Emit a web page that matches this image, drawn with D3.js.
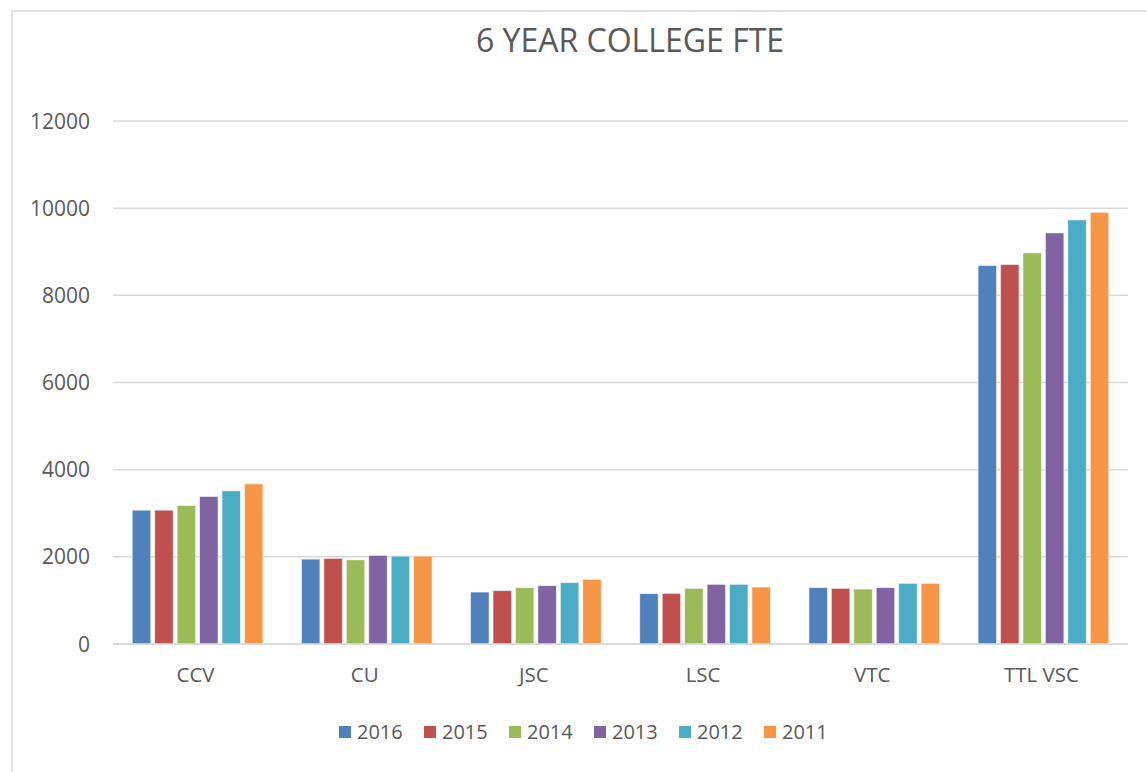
<!DOCTYPE html>
<html>
<head>
<meta charset="utf-8">
<script src="https://cdn.jsdelivr.net/npm/d3@7"></script>
<style>
  body { margin: 0; background: #fff; }
  svg { display: block; font-family: "Open Sans", sans-serif; }
</style>
</head>
<body>
<svg width="1147" height="772"></svg>
<script>
// Data
const categories = ["CCV", "CU", "JSC", "LSC", "VTC", "TTL VSC"];
const years = ["2016", "2015", "2014", "2013", "2012", "2011"];
const colors = ["#4F81BD", "#C0504D", "#9BBB59", "#8064A2", "#4BACC6", "#F79646"];
// one array per year, in category order
const fte2016 = [3070, 1947, 1191, 1155, 1292, 8683];
const fte2015 = [3070, 1963, 1223, 1160, 1276, 8706];
const fte2014 = [3177, 1931, 1292, 1276, 1260, 8973];
const fte2013 = [3383, 2032, 1338, 1368, 1292, 9432];
const fte2012 = [3513, 2016, 1407, 1368, 1391, 9730];
const fte2011 = [3673, 2016, 1482, 1306, 1391, 9904];
const yTicks = [0, 2000, 4000, 6000, 8000, 10000, 12000];

const series = [fte2016, fte2015, fte2014, fte2013, fte2012, fte2011];

const width = 1147, height = 772;
const margin = {left: 113, right: 1147 - 1128, top: 121, bottom: 772 - 644};

const svg = d3.select("svg");

// chart border
svg.append("rect")
    .attr("x", 12).attr("y", 11)
    .attr("width", width + 20).attr("height", height + 20)
    .attr("fill", "none")
    .attr("stroke", "#d9d9d9")
    .attr("stroke-width", 1.5);

const x0 = d3.scaleBand()
    .domain(categories)
    .range([margin.left, width - margin.right])
    .paddingInner(0.228)
    .paddingOuter(0.114);

const x1 = d3.scaleBand()
    .domain(years)
    .range([0, x0.bandwidth()])
    .paddingInner(0.18);

const y = d3.scaleLinear()
    .domain([0, 12000])
    .range([height - margin.bottom, margin.top]);

// gridlines
svg.append("g")
    .selectAll("line")
    .data(yTicks)
    .join("line")
    .attr("x1", margin.left)
    .attr("x2", width - margin.right)
    .attr("y1", d => y(d))
    .attr("y2", d => y(d))
    .attr("stroke", "#d9d9d9")
    .attr("stroke-width", 1.5);

// y tick labels
svg.append("g")
    .selectAll("text")
    .data(yTicks)
    .join("text")
    .attr("x", 90)
    .attr("y", d => y(d))
    .attr("dy", "0.36em")
    .attr("text-anchor", "end")
    .attr("fill", "#595959")
    .style("font-size", "21px")
    .text(d => d);

// bars
const groups = svg.append("g")
    .selectAll("g")
    .data(categories)
    .join("g")
    .attr("transform", d => `translate(${x0(d)},0)`);

groups.selectAll("rect")
    .data((c, ci) => years.map((yr, i) => ({year: yr, value: series[i][ci], color: colors[i]})))
    .join("rect")
    .attr("x", d => x1(d.year))
    .attr("width", x1.bandwidth())
    .attr("y", d => y(d.value))
    .attr("height", d => y(0) - y(d.value))
    .attr("fill", d => d.color)
    .attr("stroke", "#fff")
    .attr("stroke-opacity", 0.6)
    .attr("stroke-width", 0.8);

// redraw baseline on top
svg.append("line")
    .attr("x1", margin.left).attr("x2", width - margin.right)
    .attr("y1", y(0)).attr("y2", y(0))
    .attr("stroke", "#d9d9d9")
    .attr("stroke-width", 1.5);

// category labels
svg.append("g")
    .selectAll("text")
    .data(categories)
    .join("text")
    .attr("x", d => x0(d) + x0.bandwidth() / 2 - 2)
    .attr("y", 682)
    .attr("text-anchor", "middle")
    .attr("fill", "#595959")
    .style("font-size", "20.5px")
    .text(d => d);

// title
svg.append("text")
    .attr("x", 630)
    .attr("y", 52)
    .attr("text-anchor", "middle")
    .attr("fill", "#595959")
    .style("font-size", "32px")
    .text("6 YEAR COLLEGE FTE");

// legend
const legend = svg.append("g")
    .selectAll("g")
    .data(years)
    .join("g")
    .attr("transform", (d, i) => `translate(${339 + i * 85},726)`);

legend.append("rect")
    .attr("width", 12).attr("height", 12)
    .attr("fill", (d, i) => colors[i]);

legend.append("text")
    .attr("x", 18)
    .attr("y", 6)
    .attr("dy", "0.36em")
    .attr("fill", "#595959")
    .style("font-size", "20px")
    .text(d => d);
</script>
</body>
</html>
